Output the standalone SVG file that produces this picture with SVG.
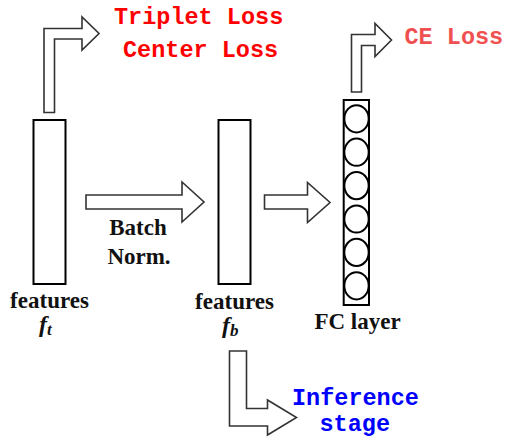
<svg xmlns="http://www.w3.org/2000/svg" width="506" height="439" viewBox="0 0 506 439">
<style>
.box{fill:#fff;stroke:#000;stroke-width:2}
.unit{fill:#fff;stroke:#000;stroke-width:2}
.arrow{fill:#fff;stroke:#333;stroke-width:1.6;stroke-linejoin:miter}
.lbl{font-family:"Liberation Serif","Times New Roman",serif;font-weight:bold;font-size:23px;fill:#111;text-anchor:middle}
.sym{font-family:"Liberation Serif","Times New Roman",serif;font-weight:bold;font-style:italic;font-size:24px;fill:#111}
.code{font-family:"Liberation Mono","Courier New",monospace;font-weight:bold;font-size:23.5px}
</style>
<rect width="506" height="439" fill="#fff"/>
<g id="connectors">
<path class="arrow" d="M44,112.5 V28.5 H82 V17 L99,33.5 L82,50 V39 H54.5 V112.5 Z"/>
<path class="arrow" d="M351.5,92 V34.5 H375 V23.5 L391.5,40 L375,56.5 V45.5 H361.5 V92 Z"/>
<path class="arrow" d="M86,195 H182 V182 L204,202 L182,222 V209 H86 Z"/>
<path class="arrow" d="M264.5,195 H307.5 V182.5 L330,202.5 L307.5,222.5 V209 H264.5 Z"/>
<path class="arrow" d="M229.5,351 V426 H267.5 V435 L296.5,417.5 L267.5,400 V408.5 H246.5 V351 Z"/>
<text class="lbl" x="138" y="235">Batch</text>
<text class="lbl" x="139" y="264">Norm.</text>
</g>
<g id="features-t">
<rect class="box" x="33.5" y="120" width="32" height="164"/>
<text class="lbl" x="49.5" y="308">features</text>
<text class="sym" x="39" y="332">f<tspan font-size="17" dy="3">t</tspan></text>
</g>
<g id="features-b">
<rect class="box" x="218.5" y="120" width="32" height="164"/>
<text class="lbl" x="234.5" y="308.5">features</text>
<text class="sym" x="222" y="333">f<tspan font-size="17" dy="3">b</tspan></text>
</g>
<g id="fc-layer">
<rect class="box" x="343.7" y="100" width="25.3" height="205"/>
<ellipse class="unit" cx="356.5" cy="118.8" rx="12.2" ry="13.6"/>
<ellipse class="unit" cx="356.5" cy="152.2" rx="12.2" ry="13.6"/>
<ellipse class="unit" cx="356.5" cy="185.6" rx="12.2" ry="13.6"/>
<ellipse class="unit" cx="356.5" cy="219" rx="12.2" ry="13.6"/>
<ellipse class="unit" cx="356.5" cy="252.4" rx="12.2" ry="13.6"/>
<ellipse class="unit" cx="356.5" cy="285.8" rx="12.2" ry="13.6"/>
<text class="lbl" x="357.5" y="329">FC layer</text>
</g>
<g id="triplet-center-loss">
<text class="code" x="114" y="24" fill="#ff0000">Triplet Loss</text>
<text class="code" x="123" y="56.5" fill="#ff0000">Center Loss</text>
</g>
<g id="ce-loss">
<text class="code" x="404.5" y="43.5" fill="#f05050">CE Loss</text>
</g>
<g id="inference-stage">
<text class="code" x="292" y="405" fill="#0000ff">Inference</text>
<text class="code" x="319.5" y="431" fill="#0000ff">stage</text>
</g>
</svg>
